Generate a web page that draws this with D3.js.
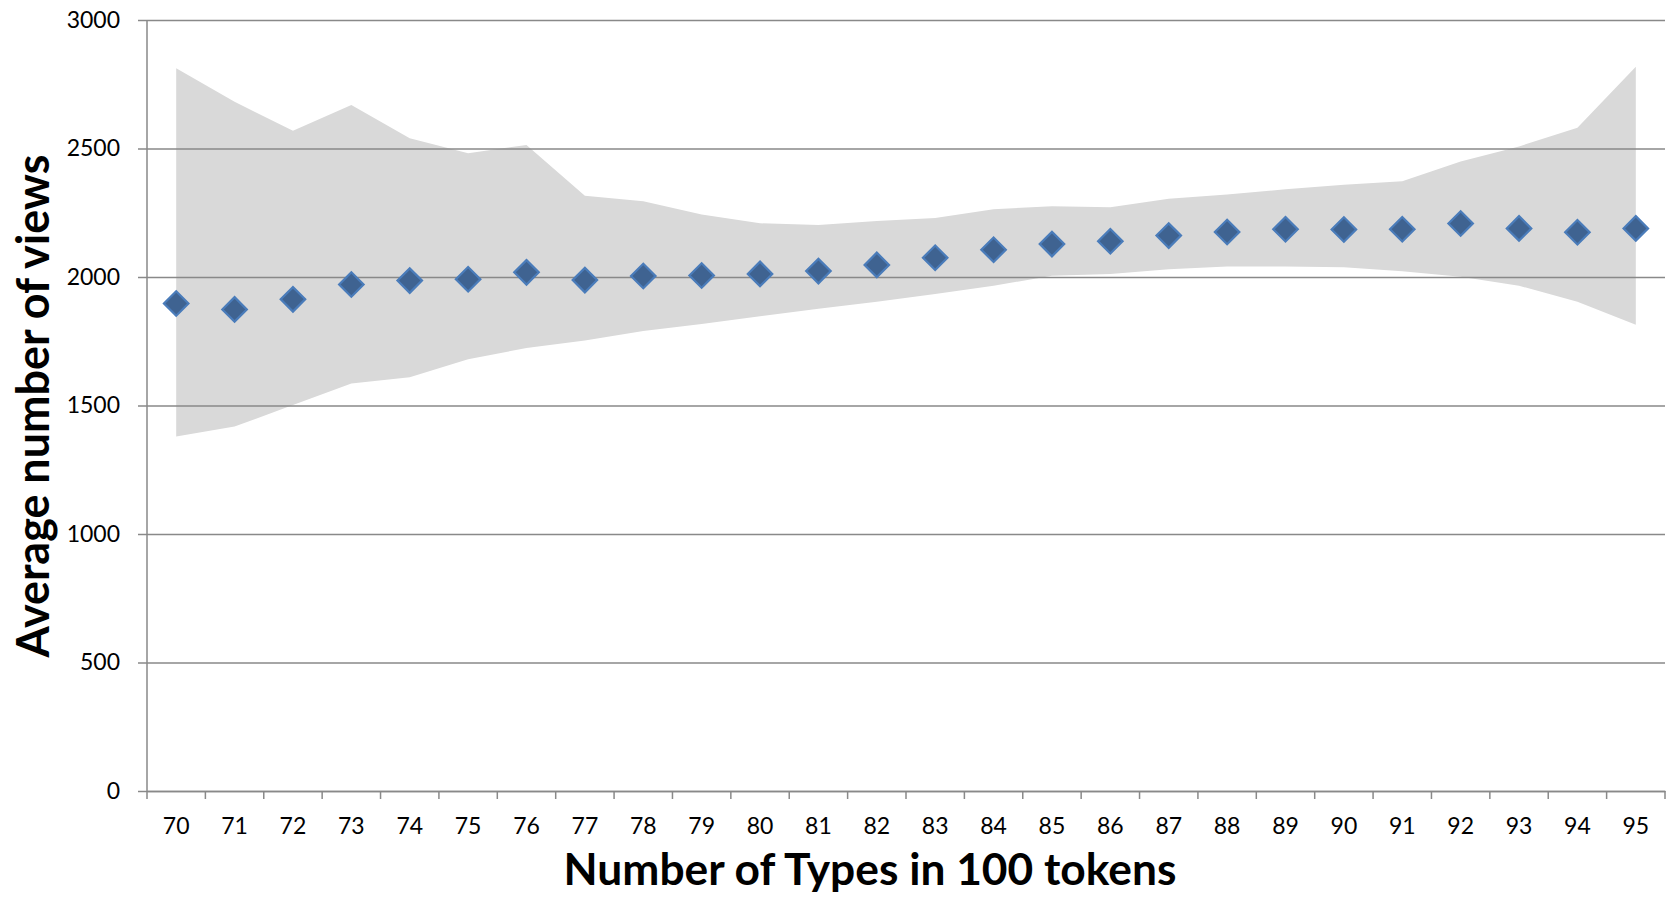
<!DOCTYPE html>
<html><head><meta charset="utf-8">
<script src="https://cdn.jsdelivr.net/npm/d3@7"></script>
<style>html,body{margin:0;padding:0;background:#fff;} svg{display:block;}</style>
</head><body>
<svg id="chart" width="1677" height="897"></svg>
<script>
const categories = [70,71,72,73,74,75,76,77,78,79,80,81,82,83,84,85,86,87,88,89,90,91,92,93,94,95];
const averageViews = [1897,1874,1913,1971,1986,1991,2018,1988,2004,2006,2012,2023,2047,2075,2106,2128,2139,2161,2175,2186,2185,2186,2208,2189,2174,2189];
const upperBound = [2812,2682,2569,2669,2540,2482,2514,2316,2295,2243,2209,2202,2218,2230,2264,2275,2271,2304,2321,2341,2359,2373,2449,2508,2581,2818];
const lowerBound = [1379,1418,1502,1586,1610,1680,1724,1753,1790,1817,1847,1876,1904,1934,1966,2005,2012,2030,2041,2041,2038,2022,2001,1966,1904,1814];
const yTicks = [0,500,1000,1500,2000,2500,3000];
const xTitle = "Number of Types in 100 tokens";
const yTitle = "Average number of views";

(function () {
const svg = d3.select("#chart");
const mLeft = 147, mRight = 1665, mTop = 20, mBottom = 791;
const font = "Lato, 'Open Sans', sans-serif";
const gridColor = "#898989";

const x = d3.scaleBand().domain(categories).range([mLeft, mRight]).padding(0);
const y = d3.scaleLinear().domain([0, 3000]).range([mBottom, mTop]);
const cx = c => x(c) + x.bandwidth() / 2;

const rows = categories.map((c, i) => ({c, v: averageViews[i], lo: lowerBound[i], hi: upperBound[i]}));

// band
svg.append("path").datum(rows)
  .attr("fill", "#d9d9d9")
  .attr("d", d3.area().x(d => cx(d.c)).y0(d => y(d.lo)).y1(d => y(d.hi)));

// y axis with gridlines
const yAxis = svg.append("g").attr("transform", `translate(${mLeft},0)`)
  .call(d3.axisLeft(y).tickValues(yTicks).tickSize(9).tickPadding(18).tickFormat(d3.format("d")));
yAxis.select(".domain").remove();
yAxis.selectAll(".tick line").attr("stroke", gridColor).attr("stroke-width", 1.5);
yAxis.selectAll(".tick").append("line")
  .attr("x1", 0).attr("x2", mRight - mLeft).attr("stroke", gridColor).attr("stroke-width", 1.5);
yAxis.selectAll(".tick text").attr("font-family", font).attr("font-size", 23).attr("fill", "#000");

// y axis line
svg.append("line").attr("x1", mLeft).attr("x2", mLeft).attr("y1", mTop).attr("y2", mBottom)
  .attr("stroke", gridColor).attr("stroke-width", 1.5);

// x axis
const xAxis = svg.append("g").attr("transform", `translate(0,${mBottom})`)
  .call(d3.axisBottom(x).tickSize(0).tickPadding(27));
xAxis.select(".domain").attr("stroke", gridColor).attr("stroke-width", 1.5);
xAxis.selectAll(".tick text").attr("font-family", font).attr("font-size", 23).attr("fill", "#000");
// tick marks between categories
const edges = categories.map(c => x(c)).concat([mRight]);
svg.append("g").selectAll("line").data(edges).join("line")
  .attr("x1", d => d).attr("x2", d => d).attr("y1", mBottom).attr("y2", mBottom + 8)
  .attr("stroke", gridColor).attr("stroke-width", 1.5);

// diamonds
svg.append("g").selectAll("path").data(rows).join("path")
  .attr("d", d3.symbol(d3.symbolSquare, 300))
  .attr("transform", d => `translate(${cx(d.c)},${y(d.v)}) rotate(45)`)
  .attr("fill", "#3f6391").attr("stroke", "#4a7cba").attr("stroke-width", 2.2);

// titles
const xt = svg.append("text").text(xTitle)
  .attr("x", 870).attr("y", 885).attr("text-anchor", "middle")
  .attr("font-family", font).attr("font-weight", "bold").attr("font-size", 38).attr("fill", "#000");
const yt = svg.append("text").text(yTitle)
  .attr("transform", `translate(49,406) rotate(-90)`).attr("text-anchor", "middle")
  .attr("font-family", font).attr("font-weight", "bold").attr("font-size", 38).attr("fill", "#000");
function fit(t, w) { const l = t.node().getComputedTextLength(); t.attr("font-size", 38 * w / l); }
fit(xt, 613); fit(yt, 503);
})();
</script>
</body></html>
